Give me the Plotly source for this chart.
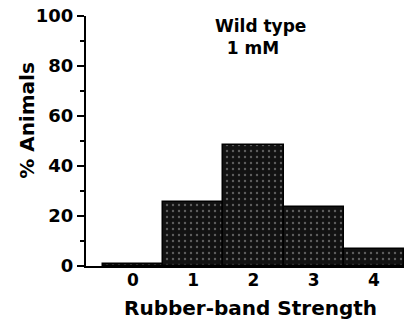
import plotly.graph_objects as go

categories = [0, 1, 2, 3, 4]
percent_animals = [1, 25.5, 48.5, 23.5, 7]
y_ticks = [0, 20, 40, 60, 80, 100]

FONT = "DejaVu Sans"

fig = go.Figure()
fig.add_trace(go.Bar(
    x=categories,
    y=percent_animals,
    width=1,
    marker=dict(
        color="#1c1c1c",
        line=dict(color="black", width=1.5),
        pattern=dict(shape=".", fgcolor="#5e5e5e", bgcolor="#121212", size=6, solidity=0.12, fillmode="replace"),
    ),
    showlegend=False,
))

fig.update_layout(
    width=410, height=328,
    margin=dict(l=86, r=6, t=16, b=62),
    paper_bgcolor="white", plot_bgcolor="white",
    font=dict(family=FONT, color="black", size=18),
    bargap=0,
    xaxis=dict(
        range=[-0.78, 4.5],
        tickvals=categories,
        ticktext=["<b>%d</b>" % c for c in categories],
        showline=True, linecolor="black", linewidth=2,
        ticks="", showgrid=False, zeroline=False,
        tickfont=dict(size=17, family=FONT),
        ticklabelstandoff=-2,
    ),
    yaxis=dict(
        range=[0, 100],
        tickvals=y_ticks,
        ticktext=["<b>%d</b>" % v for v in y_ticks],
        showline=True, linecolor="black", linewidth=2,
        ticks="outside", ticklen=7, tickwidth=2, tickcolor="black",
        minor=dict(tickvals=[10, 30, 50, 70, 90], ticks="outside", ticklen=4, tickwidth=2, tickcolor="black"),
        showgrid=False, zeroline=False,
        tickfont=dict(size=18, family=FONT),
    ),
    annotations=[
        dict(text="<b>Wild type</b><br><b>  1 mM</b>", x=0.40, y=1.01, xref="paper", yref="paper",
             xanchor="left", yanchor="top", showarrow=False, align="left",
             font=dict(size=17, family=FONT)),
        dict(text="<b>Rubber-band Strength</b>", x=0.516, y=-0.168, xref="paper", yref="paper",
             xanchor="center", yanchor="middle", showarrow=False,
             font=dict(size=20, family=FONT)),
        dict(text="<b>% Animals</b>", x=-0.186, y=0.584, xref="paper", yref="paper",
             xanchor="center", yanchor="middle", showarrow=False, textangle=-90,
             font=dict(size=20, family=FONT)),
    ],
)

fig.write_html("out.html")
